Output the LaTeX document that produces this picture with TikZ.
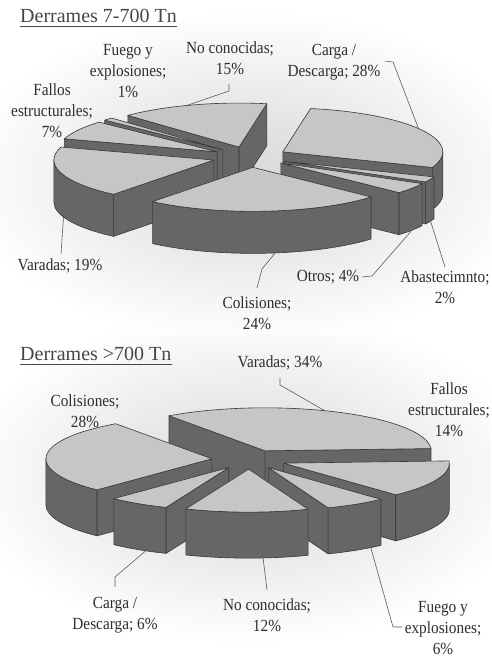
\documentclass[tikz,border=0pt]{standalone}
\usepackage{fontspec}
\setmainfont{Liberation Serif}[FakeStretch=0.9]
\newfontfamily\titlefont{Liberation Serif}
\usetikzlibrary{calc}

\definecolor{topc}{HTML}{C6C6C6}
\definecolor{sidec}{HTML}{666666}
\definecolor{edgec}{HTML}{383838}
\definecolor{txtc}{HTML}{2E2E2E}
\definecolor{leadc}{HTML}{5A5A5A}

% soft grey glow behind each pie (the shaded box spans -25bp..25bp)
\pgfdeclareradialshading{halo}{\pgfpoint{0bp}{0bp}}{%
  color(0bp)=(black!15); color(7bp)=(black!11); color(15bp)=(black!5); color(22bp)=(white); color(50bp)=(white)}

\tikzset{
  topface/.style={fill=topc, draw=edgec, line width=0.6pt, line join=round},
  sideface/.style={fill=sidec, draw=edgec, line width=0.6pt, line join=round},
  lbl/.style={text=txtc, align=center, font=\fontsize{17}{21}\selectfont, inner sep=0pt},
  ttl/.style={text=black!72, font=\titlefont\fontsize{20}{24}\selectfont, inner sep=0pt, anchor=base west},
  leader/.style={draw=leadc, line width=0.6pt},
}

% \pieslice{name}{cx}{cy}{rx}{ry}{height}{explode}{from}{to}
% angles run clockwise from the back of the pie (12 o'clock)
\newcommand\pieslice[9]{%
  \pgfmathsetmacro\slM{(#8+#9)/2}%
  \pgfmathsetmacro\slTx{#2+#7*#4*sin(\slM)}%
  \pgfmathsetmacro\slTy{#3+#7*#5*cos(\slM)}%
  \coordinate (#1) at (\slTx,\slTy);%
  \coordinate (#1-a) at ($(#1)+({#4*sin(#8)},{#5*cos(#8)})$);%
  \coordinate (#1-b) at ($(#1)+({#4*sin(#9)},{#5*cos(#9)})$);%
  \pgfmathtruncatemacro\slVa{sin(#8)<0 ? 1 : 0}%
  \pgfmathtruncatemacro\slVb{sin(#9)>0 ? 1 : 0}%
  \pgfmathsetmacro\slS{max(#8,90)}%
  \pgfmathsetmacro\slF{min(#9,270)}%
  \pgfmathtruncatemacro\slVo{\slS<\slF ? 1 : 0}%
  \ifnum\slVa=1
    \filldraw[sideface] (#1) -- (#1-a) -- ++(0,-#6) -- ($(#1)+(0,-#6)$) -- cycle;
  \fi
  \ifnum\slVb=1
    \filldraw[sideface] (#1) -- (#1-b) -- ++(0,-#6) -- ($(#1)+(0,-#6)$) -- cycle;
  \fi
  \ifnum\slVo=1
    \filldraw[sideface] ($(#1)+({#4*sin(\slS)},{#5*cos(\slS)})$)
      arc[start angle={90-\slS}, end angle={90-\slF}, x radius=#4pt, y radius=#5pt]
      -- ++(0,-#6)
      arc[start angle={90-\slF}, end angle={90-\slS}, x radius=#4pt, y radius=#5pt]
      -- cycle;
  \fi
  \filldraw[topface] (#1-a)
    arc[start angle={90-#8}, end angle={90-#9}, x radius=#4pt, y radius=#5pt]
    -- (#1) -- cycle;
}

\begin{document}
\begin{tikzpicture}[x=1pt,y=1pt]
\useasboundingbox (0,0) rectangle (491,657);
\fill[white] (0,0) rectangle (491,657);
\begin{scope}
  \clip (0,322) rectangle (491,657);
  \shade[shading=halo] (-80,290) rectangle (580,670);
\end{scope}
\begin{scope}
  \clip (0,0) rectangle (491,322);
  \shade[shading=halo] (-80,-10) rectangle (580,370);
\end{scope}

% ---------- Derrames 7-700 Tn ----------
\node[ttl] (t1) at (20,634) {Derrames 7-700 Tn};
\draw[black!72, line width=1.1pt] ([yshift=-3.5pt]t1.base west) -- ([yshift=-3.5pt]t1.base east);

\pieslice{c1nc}{250}{500}{160}{44}{42}{0.236}{316}{370}
\pieslice{c1fu}{250}{500}{160}{44}{42}{0.236}{312.4}{316}
\pieslice{c1fa}{250}{500}{160}{44}{42}{0.236}{287.2}{312.4}
\pieslice{c1ca}{250}{500}{160}{44}{42}{0.236}{10}{110.8}
\pieslice{c1va}{250}{500}{160}{44}{42}{0.236}{218.8}{287.2}
\pieslice{c1ab}{250}{500}{160}{44}{42}{0.236}{110.8}{118}
\pieslice{c1ot}{250}{500}{160}{44}{42}{0.236}{118}{132.4}
\pieslice{c1co}{250}{500}{160}{44}{42}{0.236}{132.4}{218.8}

\node[lbl] (l1fu) at (128,586) {Fuego y\\explosiones;\\1\%};
\node[lbl] (l1nc) at (230,598.5) {No conocidas;\\15\%};
\node[lbl] (l1fa) at (52,546) {Fallos\\estructurales;\\7\%};
\node[lbl] (l1ca) at (334,594.5) {Carga /\\Descarga; 28\%};
\node[lbl] (l1va) at (60,391) {Varadas; 19\%};
\node[lbl] (l1co) at (257,344) {Colisiones;\\24\%};
\node[lbl] (l1ot) at (328,380) {Otros; 4\%};
\node[lbl] (l1ab) at (445,370) {Abastecimnto;\\2\%};

\coordinate (e1nc) at ($(c1nc)+({160*sin(341)},{44*cos(341)})$);
\coordinate (e1ca) at ($(c1ca)+({160*sin(58)},{44*cos(58)})$);
\coordinate (e1va) at ($(c1va)+({160*sin(250)},{44*cos(250)-42})$);
\coordinate (e1co) at ($(c1co)+({160*sin(172)},{44*cos(172)-42})$);
\coordinate (e1ot) at ($(c1ot)+({160*sin(125)},{44*cos(125)-42})$);
\coordinate (e1ab) at ($(c1ab)+({160*sin(114)},{44*cos(114)-42})$);

\coordinate (k1nc) at (229,573);  \coordinate (b1nc) at (229,566);
\coordinate (k1ca) at (385,596);  \coordinate (b1ca) at (393,595);
\coordinate (k1va) at (61,403);
\coordinate (k1co) at (257,369);  \coordinate (b1co) at (262,388);
\coordinate (k1ot) at (362,380);  \coordinate (b1ot) at (372,381);
\coordinate (k1ab) at (445,390);

\draw[leader] (k1nc) -- (b1nc) -- (e1nc);
\draw[leader] (k1ca) -- (b1ca) -- (e1ca);
\draw[leader] (k1va) -- (e1va);
\draw[leader] (k1co) -- (b1co) -- (e1co);
\draw[leader] (k1ot) -- (b1ot) -- (e1ot);
\draw[leader] (k1ab) -- (e1ab);

% ---------- Derrames >700 Tn ----------
\node[ttl] (t2) at (20,296) {Derrames >700 Tn};
\draw[black!72, line width=1.1pt] ([yshift=-3.5pt]t2.base west) -- ([yshift=-3.5pt]t2.base east);

\pieslice{c2va}{249}{197.5}{166}{43}{46}{0.224}{324.6}{447}
\pieslice{c2co}{249}{197.5}{166}{43}{46}{0.224}{223.8}{324.6}
\pieslice{c2fa}{249}{197.5}{166}{43}{46}{0.224}{87}{137.4}
\pieslice{c2ca}{249}{197.5}{166}{43}{46}{0.224}{202.2}{223.8}
\pieslice{c2fu}{249}{197.5}{166}{43}{46}{0.224}{137.4}{159}
\pieslice{c2nc}{249}{197.5}{166}{43}{46}{0.224}{159}{202.2}

\node[lbl] (l2va) at (280,294) {Varadas; 34\%};
\node[lbl] (l2fa) at (449,247) {Fallos\\estructurales;\\14\%};
\node[lbl] (l2co) at (85,246) {Colisiones;\\28\%};
\node[lbl] (l2ca) at (115,42) {Carga /\\Descarga; 6\%};
\node[lbl] (l2nc) at (267,42) {No conocidas;\\12\%};
\node[lbl] (l2fu) at (443,29) {Fuego y\\explosiones;\\6\%};

\coordinate (e2va) at ($(c2va)+({166*sin(21)},{43*cos(21)})$);
\coordinate (e2ca) at ($(c2ca)+({166*sin(210)},{43*cos(210)-46})$);
\coordinate (e2nc) at ($(c2nc)+({166*sin(175)},{43*cos(175)-46})$);
\coordinate (e2fu) at ($(c2fu)+({166*sin(142)},{43*cos(142)-46})$);

\coordinate (k2va) at (280,279);  \coordinate (b2va) at (280,272);
\coordinate (k2ca) at (115,70);   \coordinate (b2ca) at (115,80);
\coordinate (k2nc) at (267,67);
\coordinate (k2fu) at (402,30);   \coordinate (b2fu) at (393,30);

\draw[leader] (k2va) -- (b2va) -- (e2va);
\draw[leader] (k2ca) -- (b2ca) -- (e2ca);
\draw[leader] (k2nc) -- (e2nc);
\draw[leader] (k2fu) -- (b2fu) -- (e2fu);
\end{tikzpicture}
\end{document}
